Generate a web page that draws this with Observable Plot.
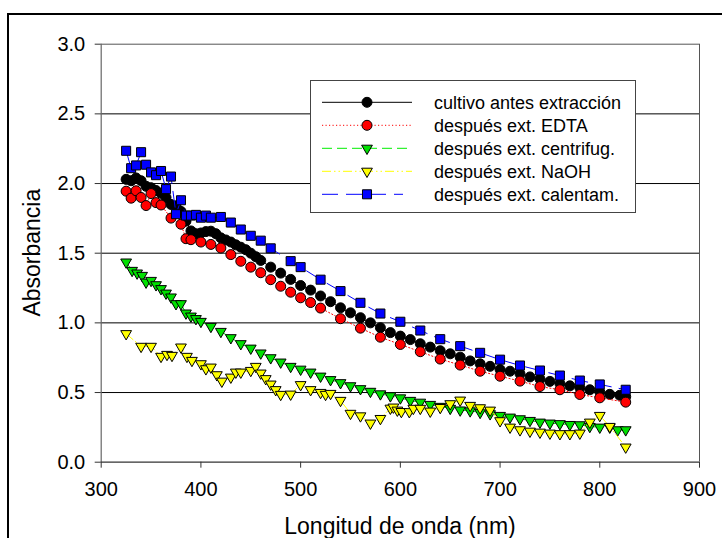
<!DOCTYPE html>
<html><head><meta charset="utf-8">
<script src="https://cdn.jsdelivr.net/npm/d3@7"></script>
<script src="https://cdn.jsdelivr.net/npm/@observablehq/plot@0.6"></script>
<style>
html,body{margin:0;padding:0;background:#fff;}
#wrap{position:relative;width:722px;height:538px;overflow:hidden;font-family:Arial,"Liberation Sans",sans-serif;}
#frame{position:absolute;left:7px;top:13px;width:800px;height:800px;border:2px solid #000;box-sizing:border-box;}
#chart{position:absolute;left:0;top:0;}
</style></head>
<body><div id="wrap"><div id="frame"></div><div id="chart"></div></div>
<script>
// ---- data ----
const xTicks = [300,400,500,600,700,800,900];
const yTicks = [0,0.5,1,1.5,2,2.5,3];
const xTitle = "Longitud de onda (nm)";
const yTitle = "Absorbancia";
const seriesNames = ["cultivo antes extracción","después ext. EDTA","después ext. centrifug.","después ext. NaOH","después ext. calentam."];

const wlBlack = [325,330,335,340,345,350,355,360,365,370,375,380,385,390,395,400,405,410,415,420,425,430,435,440,445,450,455,460,470,480,490,500,510,520,530,540,550,560,570,580,590,600,610,620,630,640,650,660,670,680,690,700,710,720,730,740,750,760,770,780,790,800,810,820,826];
const abBlack = [2.03,2.02,2.04,2.02,1.98,1.97,1.95,1.93,1.90,1.85,1.84,1.80,1.73,1.66,1.64,1.645,1.655,1.658,1.64,1.61,1.595,1.58,1.56,1.543,1.525,1.50,1.475,1.448,1.40,1.357,1.312,1.268,1.235,1.193,1.152,1.108,1.072,1.037,1.0,0.965,0.93,0.905,0.88,0.85,0.826,0.80,0.778,0.754,0.727,0.706,0.688,0.665,0.653,0.635,0.612,0.597,0.58,0.565,0.548,0.535,0.52,0.505,0.487,0.48,0.47];

const wlEdta = [325,330,335,340,345,350,355,360,370,380,385,390,400,410,420,430,440,450,460,470,480,490,500,510,520,540,560,580,600,620,640,660,680,700,720,740,760,780,800,826];
const abEdta = [1.945,1.895,1.948,1.90,1.842,1.928,1.863,1.846,1.752,1.708,1.604,1.597,1.58,1.563,1.537,1.49,1.442,1.40,1.36,1.31,1.263,1.22,1.18,1.146,1.106,1.03,0.962,0.897,0.845,0.793,0.74,0.697,0.653,0.617,0.582,0.543,0.52,0.486,0.462,0.431];

const wlCentr = [325,331,336,341,345,350,355,360,365,370,375,380,385,390,395,400,410,420,430,440,450,460,470,480,490,500,510,520,530,540,550,560,570,580,590,600,610,620,630,640,650,660,670,680,690,700,710,720,730,740,750,760,770,780,790,800,810,818,826];
const abCentr = [1.436,1.376,1.357,1.34,1.292,1.304,1.273,1.245,1.213,1.185,1.137,1.137,1.07,1.048,1.03,1.01,0.974,0.938,0.893,0.85,0.818,0.783,0.749,0.718,0.687,0.667,0.646,0.617,0.592,0.57,0.548,0.527,0.508,0.49,0.476,0.461,0.443,0.43,0.414,0.40,0.386,0.374,0.368,0.357,0.347,0.335,0.323,0.311,0.299,0.287,0.28,0.276,0.27,0.268,0.256,0.251,0.251,0.232,0.232];

const wlNaoh = [325,340,350,360,366,371,380,386,391,400,405,410,416,421,430,435,440,450,455,460,465,470,475,480,490,500,510,520,525,530,540,550,560,570,580,590,593,597,601,609,613,620,630,640,650,660,670,680,690,700,710,720,730,740,750,760,770,780,790,800,810,826];
const abNaoh = [0.922,0.831,0.831,0.759,0.773,0.766,0.826,0.759,0.73,0.706,0.67,0.682,0.627,0.581,0.61,0.646,0.646,0.658,0.687,0.639,0.599,0.56,0.52,0.486,0.488,0.556,0.52,0.50,0.486,0.493,0.443,0.35,0.332,0.28,0.313,0.387,0.395,0.373,0.363,0.362,0.386,0.386,0.366,0.392,0.419,0.445,0.407,0.39,0.373,0.297,0.251,0.232,0.222,0.215,0.208,0.204,0.204,0.208,0.287,0.335,0.256,0.108];

const wlCalen = [325,330,335,340,345,350,355,360,365,370,375,380,385,390,395,400,405,410,420,430,440,450,460,470,490,500,520,540,560,580,600,620,640,660,680,700,720,740,760,780,800,826];
const abCalen = [2.235,2.11,2.13,2.225,2.135,2.08,2.06,2.09,1.96,2.05,1.78,1.88,1.77,1.77,1.775,1.755,1.77,1.755,1.76,1.72,1.67,1.625,1.59,1.535,1.443,1.40,1.31,1.228,1.144,1.067,1.008,0.945,0.883,0.833,0.785,0.736,0.694,0.658,0.622,0.586,0.558,0.52];

// ---- styles ----
const triDown = {draw(ctx, size){
  const y = Math.sqrt(size/(3*Math.sqrt(3)));
  ctx.moveTo(0, 2*y); ctx.lineTo(-Math.sqrt(3)*y, -y); ctx.lineTo(Math.sqrt(3)*y, -y); ctx.closePath();
}};
const styles = [
  {stroke:"#000000", dash:null, fill:"#000000", symbol:"circle", r:5},
  {stroke:"#ff0000", dash:"1.2,2.3", fill:"#ff0000", symbol:"circle", r:5},
  {stroke:"#00ee00", dash:"10,5", fill:"#00e000", symbol:triDown, r:4},
  {stroke:"#ffff00", dash:"9,3,1.5,3,1.5,3", fill:"#ffff00", symbol:triDown, r:4},
  {stroke:"#0000ff", dash:"16,8", fill:"#0000ff", symbol:"square", r:5.1}
];
const wls = [wlBlack, wlEdta, wlCentr, wlNaoh, wlCalen];
const abs = [abBlack, abEdta, abCentr, abNaoh, abCalen];
const tables = wls.map((w,k)=> w.map((x,i)=>({x, y: abs[k][i]})));

const marks = [
  Plot.ruleY([0.5,1,1.5,2,2.5], {stroke:"#000", strokeWidth:1}),
  Plot.ruleY([3], {stroke:"#555", strokeWidth:1}),
  Plot.ruleX([900], {stroke:"#555", strokeWidth:1}),
  Plot.ruleX([300], {stroke:"#666", strokeWidth:1.2}),
  Plot.ruleY([0], {stroke:"#333", strokeWidth:1.2}),
  Plot.axisY({ticks: yTicks, tickFormat: d=>d.toFixed(1), tickSize:6, tickPadding:10, label:null, stroke:"#333", fontSize:20}),
  Plot.axisX({ticks: xTicks, tickFormat: d=>String(d), tickSize:6, tickPadding:14, label:null, stroke:"#333", fontSize:20})
];
tables.forEach((t,k)=>{
  const s = styles[k];
  marks.push(Plot.line(t, {x:"x", y:"y", stroke:s.stroke, strokeWidth:1, strokeDasharray:s.dash}));
  marks.push(Plot.dot(t, {x:"x", y:"y", r:s.r, symbol:s.symbol, fill:s.fill, stroke:"#000", strokeWidth:1}));
});

const chart = Plot.plot({
  width:722, height:538,
  marginLeft:100.7, marginRight:23, marginTop:43.7, marginBottom:76.3,
  x:{domain:[300,900]},
  y:{domain:[0,3]},
  style:{fontFamily:'Arial, "Liberation Sans", sans-serif', fontSize:"19px", background:"none", color:"#000", overflow:"visible"},
  marks
});
document.getElementById("chart").appendChild(chart);

// titles and legend
const svg = d3.select(chart);
svg.append("text").attr("x",400).attr("y",534).attr("text-anchor","middle")
  .attr("font-size",23).attr("fill","#000").text(xTitle);
svg.append("text").attr("transform","translate(40,252.7) rotate(-90)").attr("text-anchor","middle")
  .attr("font-size",23).attr("fill","#000").text(yTitle);

const lg = svg.append("g");
lg.append("rect").attr("x",310.5).attr("y",80.5).attr("width",325).attr("height",132)
  .attr("fill","#fff").attr("stroke","#444").attr("stroke-width",1);
seriesNames.forEach((name,k)=>{
  const s = styles[k];
  const yy = 102.3 + k*23;
  lg.append("line").attr("x1",322).attr("x2", k===4 ? 403 : 412).attr("y1",yy).attr("y2",yy)
    .attr("stroke",s.stroke).attr("stroke-width",1).attr("stroke-dasharray",s.dash);
  const type = s.symbol==="circle" ? d3.symbolCircle : s.symbol==="square" ? d3.symbolSquare : s.symbol;
  lg.append("path").attr("transform",`translate(367,${yy})`)
    .attr("d", d3.symbol().type(type).size(Math.PI*s.r*s.r)())
    .attr("fill",s.fill).attr("stroke","#000").attr("stroke-width",1);
  lg.append("text").attr("x",434).attr("y",yy+6.5).attr("text-anchor","start")
    .attr("font-size",18).attr("fill","#000").text(name);
});
</script>
</body></html>
